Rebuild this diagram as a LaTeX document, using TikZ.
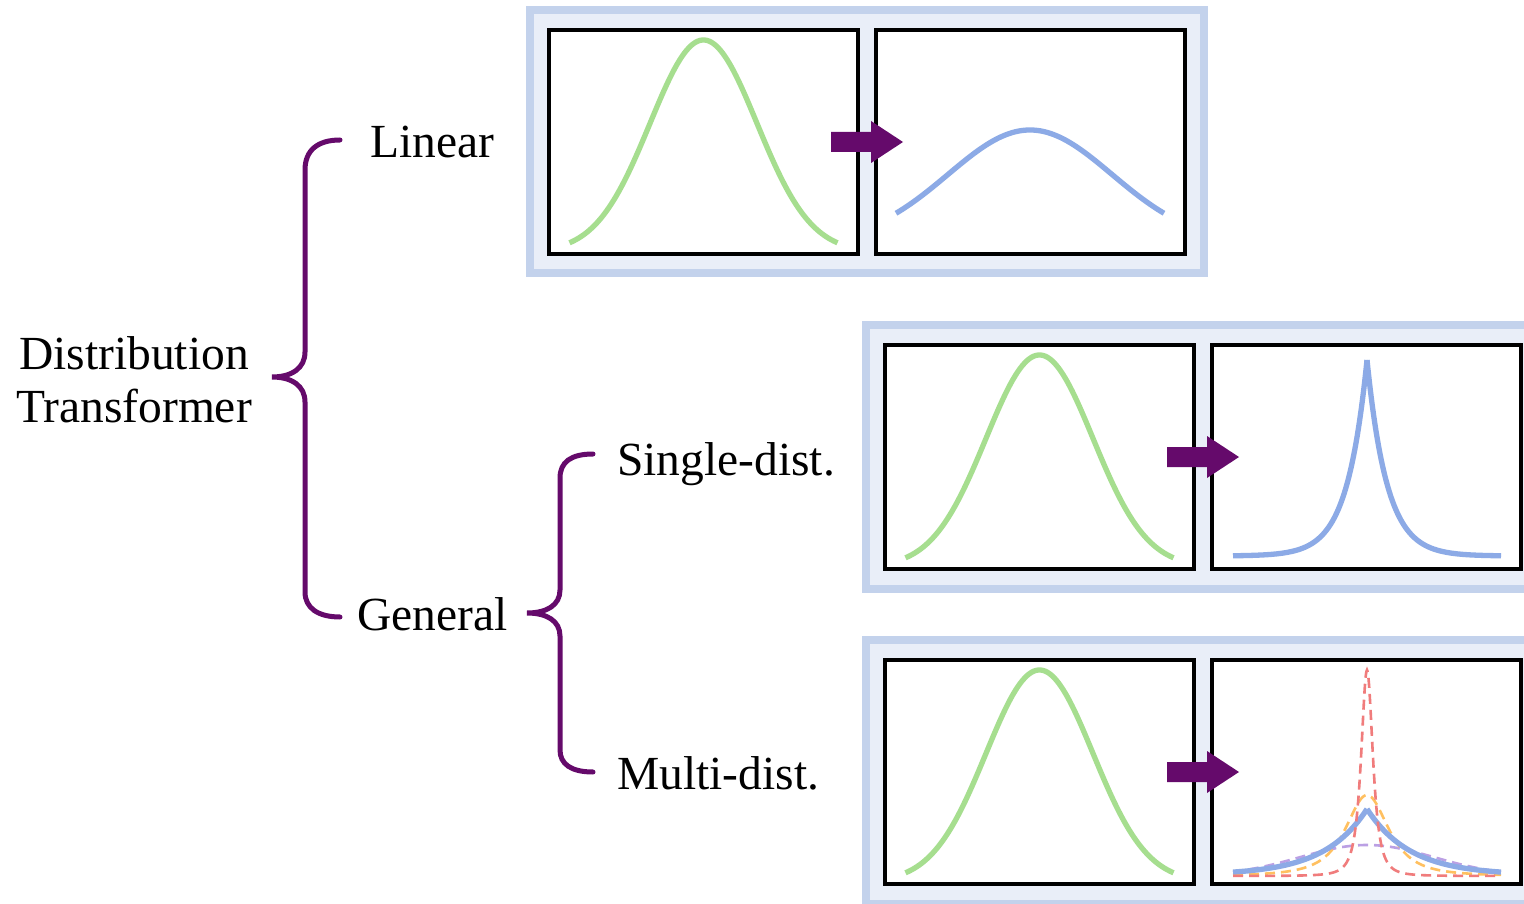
\documentclass[tikz,border=0pt]{standalone}
\usepackage{fontspec}
\setmainfont{Liberation Serif}

\definecolor{panelfill}{RGB}{233,238,248}
\definecolor{panelline}{RGB}{195,210,236}
\definecolor{gaussgreen}{RGB}{166,222,143}
\definecolor{distblue}{RGB}{140,170,230}
\definecolor{deeppurple}{RGB}{101,10,107}
\definecolor{distred}{RGB}{240,124,124}
\definecolor{distorange}{RGB}{255,192,96}
\definecolor{distlilac}{RGB}{187,160,228}

\tikzset{
  label text/.style={font=\fontsize{47.5}{52.5}\selectfont, inner sep=0pt, anchor=base west},
  panel/.style={fill=panelfill, draw=panelline, line width=8pt},
  plotbox/.style={fill=white, draw=black, line width=3.5pt},
  curve/.style={line width=5.3pt, line join=round},
  dashcurve/.style={line width=2.6pt, dash pattern=on 10pt off 6pt},
  brace/.style={draw=deeppurple, line width=5pt, line cap=round},
  flowarrow/.style={fill=deeppurple, draw=none}
}

% one panel: frame, two plot boxes, the arrow and the input Gaussian
\newcommand{\panelframe}{%
  \draw[panel] (530,10) rectangle (1204,273.5);
  \draw[plotbox] (549,30) rectangle (858,254);
  \draw[plotbox] (876,30) rectangle (1185,254);
  \fill[flowarrow] (831,132) -- (871,132) -- (871,121) -- (903,142) -- (871,163) -- (871,152) -- (831,152) -- cycle;
  \draw[curve, gaussgreen] plot[domain=-134:134, samples=120, smooth]
    ({\x+703.5}, {252-212*exp(-0.5*(\x/53.5)^2)});
}

\begin{document}
\begin{tikzpicture}[x=1pt, y=-1pt]
\clip (0,0) rectangle (1524,904);
\fill[white] (0,0) rectangle (1524,904);

% Linear transform
\begin{scope}
  \panelframe
  \draw[curve, distblue] plot[domain=-134:134, samples=120, smooth]
    ({\x+1030}, {243-113*exp(-0.5*(\x/82)^2)});
\end{scope}

% General, single distribution
\begin{scope}[shift={(336,315)}]
  \panelframe
  \draw[curve, distblue] plot[domain=-134:0, samples=120, smooth]
    ({\x+1031}, {241-196*exp(\x/20)});
  \draw[curve, distblue] plot[domain=0:134, samples=120, smooth]
    ({\x+1031}, {241-196*exp(-\x/20)});
\end{scope}

% General, several distributions
\begin{scope}[shift={(336,630)}]
  \panelframe
  \draw[dashcurve, distlilac] plot[domain=-134:134, samples=120, smooth]
    ({\x+1031}, {246-31*exp(-0.5*(\x/67)^2)});
  \draw[dashcurve, distorange] plot[domain=-134:134, samples=160, smooth]
    ({\x+1031}, {246-81/((1+(\x/33)^2)*sqrt(1+(\x/33)^2))});
  \draw[curve, distblue] plot[domain=-134:0, samples=120, smooth]
    ({\x+1031}, {245-66*exp(\x/43)});
  \draw[curve, distblue] plot[domain=0:134, samples=120, smooth]
    ({\x+1031}, {245-66*exp(-\x/43)});
  \draw[dashcurve, distred] plot[domain=-134:134, samples=241, smooth]
    ({\x+1031}, {246-206/((1+(\x/9)^2)*sqrt(1+(\x/9)^2))});
\end{scope}

% labels
\node[label text, anchor=base] (dist) at (134,369) {Distribution};
\node[label text, anchor=base] (trans) at (134,422) {Transformer};
\node[label text] (linear) at (370,158) {Linear};
\node[label text] (general) at (357,630) {General};
\node[label text] (single) at (617,475) {Single-dist.};
\node[label text] (multi) at (617,789) {Multi-dist.};

% braces
\coordinate (b1top) at (340,140);
\coordinate (b1bot) at (340,617);
\coordinate (b2top) at (593,454);
\coordinate (b2bot) at (593,772);
\draw[brace] (b1top) .. controls (318,140) and (305,150) .. (305,170)
  -- (305,352) .. controls (305,368) and (292,377) .. (272,377)
  .. controls (292,377) and (305,386) .. (305,402)
  -- (305,592) .. controls (305,608) and (318,617) .. (b1bot);
\draw[brace] (b2top) .. controls (571,454) and (560,462) .. (560,478)
  -- (560,590) .. controls (560,605) and (547,613) .. (527,613)
  .. controls (547,613) and (560,621) .. (560,636)
  -- (560,750) .. controls (560,764) and (571,772) .. (b2bot);
\end{tikzpicture}
\end{document}
